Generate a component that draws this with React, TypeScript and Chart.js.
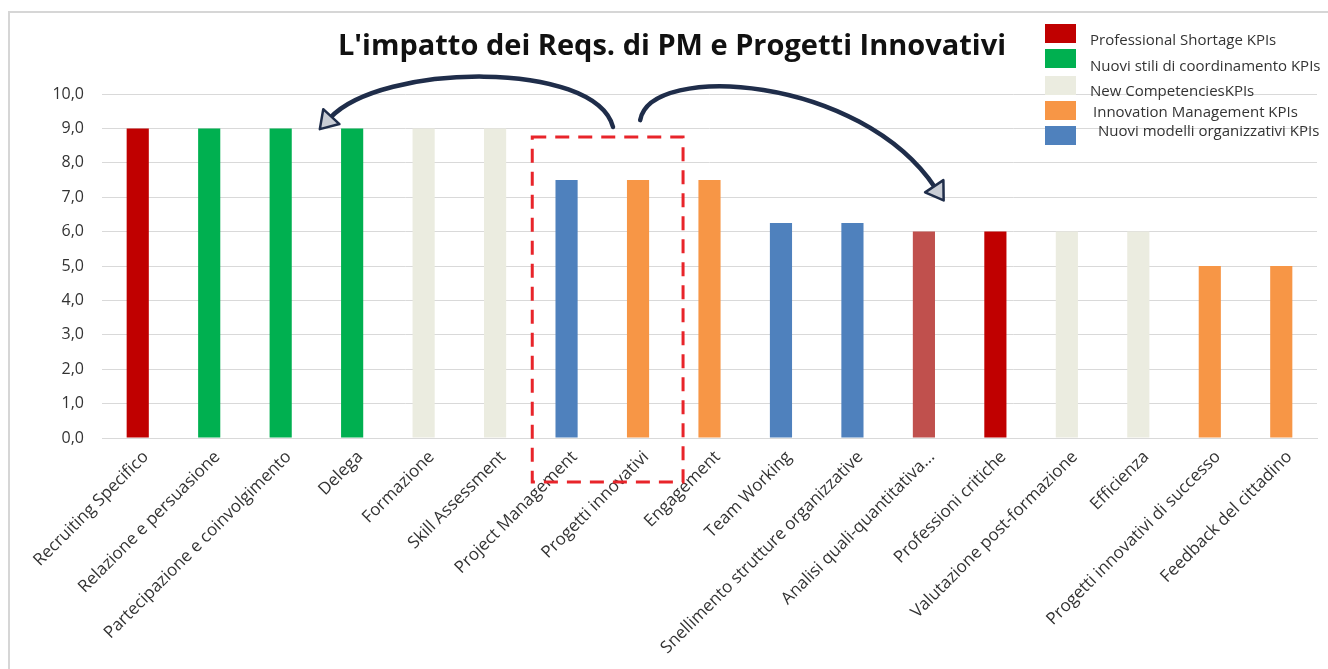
import React, { useEffect, useRef } from "react";
import { Chart, registerables } from "chart.js";

Chart.register(...registerables);

const titleText = "L'impatto dei Reqs. di PM e Progetti Innovativi";

const categories = [
  "Recruiting Specifico",
  "Relazione e persuasione",
  "Partecipazione e coinvolgimento",
  "Delega",
  "Formazione",
  "Skill Assessment",
  "Project Management",
  "Progetti innovativi",
  "Engagement",
  "Team Working",
  "Snellimento strutture organizzative",
  "Analisi quali-quantitativa...",
  "Professioni critiche",
  "Valutazione post-formazione",
  "Efficienza",
  "Progetti innovativi di successo",
  "Feedback del cittadino",
];

const values = [9, 9, 9, 9, 9, 9, 7.5, 7.5, 7.5, 6.25, 6.25, 6, 6, 6, 6, 5, 5];

const RED = "#C00000";
const GREEN = "#00B050";
const BEIGE = "#EBECE0";
const ORANGE = "#F79646";
const BLUE = "#4F81BD";
const SOFT_RED = "#C0504D";

const barColors = [
  RED, GREEN, GREEN, GREEN, BEIGE, BEIGE, BLUE, ORANGE, ORANGE,
  BLUE, BLUE, SOFT_RED, RED, BEIGE, BEIGE, ORANGE, ORANGE,
];

const legendLabels = [
  "Professional Shortage KPIs",
  "Nuovi stili di coordinamento KPIs",
  "New CompetenciesKPIs",
  "Innovation Management KPIs",
  "Nuovi modelli organizzativi KPIs",
];
const legendColors = [RED, GREEN, BEIGE, ORANGE, BLUE];

const yTicks = [0, 1, 2, 3, 4, 5, 6, 7, 8, 9, 10];

// annotation anchors in data space: [category index, value]
const highlightBox = { fromIndex: 5.52, toIndex: 7.63, top: 8.75, bottom: -1.28 };
const arrowLeft = [[6.65, 9.04], [6.4, 11.0], [3.4, 10.9], [2.69, 9.3]];
const arrowRight = [[7.03, 9.24], [7.17, 10.93], [10.11, 10.55], [11.16, 7.27]];

const W = 1328;
const H = 669;

const overlay = {
  id: "overlay",
  beforeDraw(chart: any) {
    const ctx = chart.ctx;
    ctx.save();
    ctx.fillStyle = "#ffffff";
    ctx.fillRect(0, 0, chart.width, chart.height);
    ctx.restore();
  },
  afterDraw(chart: any) {
    const ctx = chart.ctx;
    const xs = chart.scales.x;
    const ys = chart.scales.y;
    const px = (i: number) => {
      const a = xs.getPixelForValue(0);
      const b = xs.getPixelForValue(1);
      return a + (b - a) * i;
    };
    const py = (v: number) => ys.getPixelForValue(v);

    ctx.save();
    // frame
    ctx.strokeStyle = "#d6d6d6";
    ctx.lineWidth = 2;
    ctx.beginPath();
    ctx.moveTo(9, H);
    ctx.lineTo(9, 12);
    ctx.lineTo(W, 12);
    ctx.stroke();

    // title
    ctx.fillStyle = "#111111";
    ctx.font = "bold 29px 'Open Sans', 'Liberation Sans', sans-serif";
    ctx.textAlign = "center";
    ctx.textBaseline = "middle";
    ctx.fillText(titleText, 672, 47);

    // legend
    ctx.textAlign = "left";
    ctx.font = "15px 'Open Sans', sans-serif";
    const boxTops = [24, 49, 76, 101, 126];
    const textX = [1090, 1090, 1090, 1093, 1098];
    const textY = [41, 67, 92, 113, 132];
    for (let i = 0; i < legendLabels.length; i++) {
      ctx.fillStyle = legendColors[i];
      ctx.fillRect(1045, boxTops[i], 31, 19);
      ctx.fillStyle = "#333333";
      ctx.fillText(legendLabels[i], textX[i], textY[i]);
    }

    // dashed highlight box
    ctx.strokeStyle = "#E8242A";
    ctx.lineWidth = 3;
    ctx.setLineDash([14, 9]);
    const bx0 = px(highlightBox.fromIndex);
    const bx1 = px(highlightBox.toIndex);
    const by0 = py(highlightBox.top);
    const by1 = py(highlightBox.bottom);
    ctx.strokeRect(bx0, by0, bx1 - bx0, by1 - by0);
    ctx.setLineDash([]);

    // arrows
    const drawArrow = (pts: number[][]) => {
      const p = pts.map(([i, v]) => [px(i), py(v)]);
      ctx.strokeStyle = "#1F2D4A";
      ctx.lineWidth = 4.5;
      ctx.lineCap = "round";
      ctx.beginPath();
      ctx.moveTo(p[0][0], p[0][1]);
      ctx.bezierCurveTo(p[1][0], p[1][1], p[2][0], p[2][1], p[3][0], p[3][1]);
      ctx.stroke();
      // head
      const dx = p[3][0] - p[2][0];
      const dy = p[3][1] - p[2][1];
      const len = Math.hypot(dx, dy);
      const ux = dx / len;
      const uy = dy / len;
      const nx = -uy;
      const ny = ux;
      const tipX = p[3][0] + ux * 15;
      const tipY = p[3][1] + uy * 15;
      const baseX = p[3][0] - ux * 2;
      const baseY = p[3][1] - uy * 2;
      ctx.beginPath();
      ctx.moveTo(tipX, tipY);
      ctx.lineTo(baseX + nx * 11, baseY + ny * 11);
      ctx.lineTo(baseX - nx * 11, baseY - ny * 11);
      ctx.closePath();
      ctx.fillStyle = "#C9CDD5";
      ctx.fill();
      ctx.lineWidth = 2.5;
      ctx.lineJoin = "round";
      ctx.stroke();
    };
    drawArrow(arrowLeft);
    drawArrow(arrowRight);
    ctx.restore();
  },
};

export default function App() {
  const ref = useRef<HTMLCanvasElement | null>(null);
  useEffect(() => {
    if (!ref.current) return;
    const chart = new Chart(ref.current, {
      type: "bar",
      data: {
        labels: categories,
        datasets: [
          {
            data: values,
            backgroundColor: barColors,
            borderWidth: 0,
            barPercentage: 0.31,
            categoryPercentage: 1,
          },
        ],
      },
      options: {
        animation: false,
        responsive: false,
        maintainAspectRatio: false,
        layout: { padding: { top: 94, right: 11, left: 0, bottom: 0 } },
        plugins: {
          legend: { display: false },
          title: { display: false },
          tooltip: { enabled: false },
        },
        scales: {
          x: {
            grid: { display: false, drawTicks: false },
            border: { display: true, color: "#d9d9d9", width: 1 },
            ticks: {
              autoSkip: false,
              maxRotation: 45,
              minRotation: 45,
              color: "#333333",
              font: { family: "'Open Sans', sans-serif", size: 17 },
              padding: 9,
              labelOffset: 8,
            },
            afterFit(scale: any) {
              scale.height = 231;
            },
          },
          y: {
            min: 0,
            max: 10,
            afterBuildTicks(scale: any) {
              scale.ticks = yTicks.map((v) => ({ value: v }));
            },
            grid: { color: "#d9d9d9", drawTicks: false, lineWidth: 1 },
            border: { display: false },
            ticks: {
              color: "#333333",
              font: { family: "'Open Sans', sans-serif", size: 16 },
              padding: 18,
              callback: (v: any) => Number(v).toFixed(1).replace(".", ","),
            },
            afterFit(scale: any) {
              scale.width = 102;
            },
          },
        },
      },
      plugins: [overlay],
    });
    return () => chart.destroy();
  }, []);
  return (
    <div style={{ position: "fixed", left: 0, top: 0, width: W, height: H }}>
      <canvas ref={ref} width={W} height={H} style={{ display: "block" }} />
    </div>
  );
}
